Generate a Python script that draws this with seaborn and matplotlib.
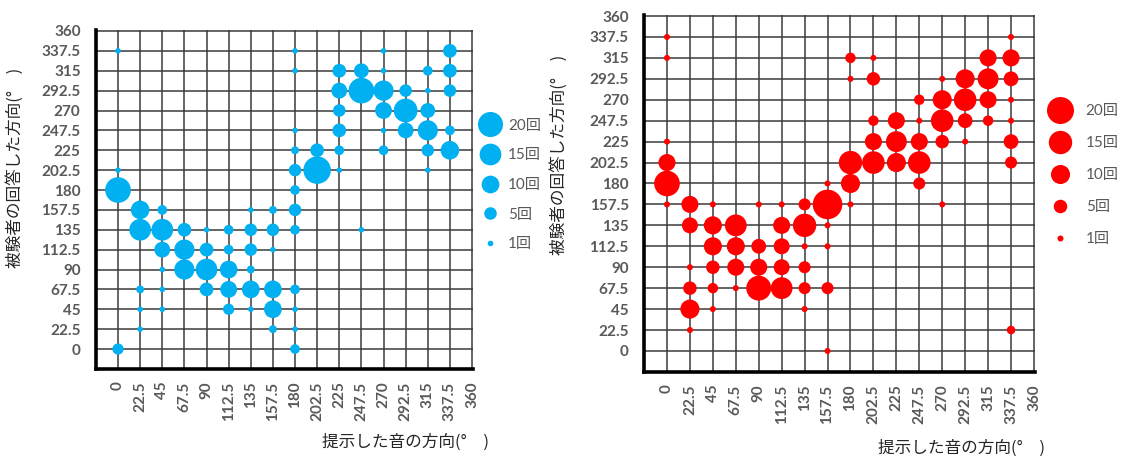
import numpy as np
import pandas as pd
import matplotlib
matplotlib.use("Agg")
import matplotlib.pyplot as plt
from matplotlib.lines import Line2D
from matplotlib.font_manager import FontProperties
import seaborn as sns

# ---- blue panel: presented direction, answered direction, number of answers ----
blue_presented = [0, 0, 0, 0,
                  22.5, 22.5, 22.5, 22.5, 22.5,
                  45, 45, 45, 45, 45, 45,
                  67.5, 67.5, 67.5,
                  90, 90, 90, 90,
                  112.5, 112.5, 112.5, 112.5, 112.5,
                  135, 135, 135, 135, 135, 135,
                  157.5, 157.5, 157.5, 157.5, 157.5, 157.5,
                  180, 180, 180, 180, 180, 180, 180, 180, 180, 180, 180, 180,
                  202.5, 202.5,
                  225, 225, 225, 225, 225, 225,
                  247.5, 247.5, 247.5,
                  270, 270, 270, 270, 270, 270,
                  292.5, 292.5, 292.5,
                  315, 315, 315, 315, 315, 315,
                  337.5, 337.5, 337.5, 337.5, 337.5]
blue_answered = [337.5, 202.5, 180, 0,
                 157.5, 135, 67.5, 45, 22.5,
                 157.5, 135, 112.5, 90, 67.5, 45,
                 135, 112.5, 90,
                 135, 112.5, 90, 67.5,
                 135, 112.5, 90, 67.5, 45,
                 157.5, 135, 112.5, 90, 67.5, 45,
                 157.5, 135, 112.5, 67.5, 45, 22.5,
                 337.5, 315, 247.5, 225, 202.5, 180, 157.5, 135, 67.5, 45, 22.5, 0,
                 225, 202.5,
                 315, 292.5, 270, 247.5, 225, 202.5,
                 315, 292.5, 135,
                 337.5, 315, 292.5, 270, 247.5, 225,
                 292.5, 270, 247.5,
                 315, 292.5, 270, 247.5, 225, 202.5,
                 337.5, 315, 292.5, 247.5, 225]
blue_counts = [1, 1, 21, 4,
               11, 15, 2, 1, 1,
               3, 15, 8, 1, 1, 1,
               6, 13, 13,
               1, 6, 15, 6,
               3, 3, 10, 9, 4,
               1, 5, 5, 2, 10, 1,
               2, 5, 1, 10, 10, 2,
               1, 1, 1, 2, 5, 3, 5, 3, 3, 1, 1, 3,
               6, 24,
               6, 8, 5, 6, 3, 1,
               7, 21, 1,
               1, 1, 13, 9, 1, 3,
               5, 18, 8,
               3, 1, 7, 13, 5, 1,
               6, 6, 5, 3, 11]

# ---- red panel ----
red_presented = [0, 0, 0, 0, 0, 0,
                 22.5, 22.5, 22.5, 22.5, 22.5, 22.5,
                 45, 45, 45, 45, 45, 45,
                 67.5, 67.5, 67.5, 67.5,
                 90, 90, 90, 90,
                 112.5, 112.5, 112.5, 112.5, 112.5,
                 135, 135, 135, 135, 135, 135,
                 157.5, 157.5, 157.5, 157.5, 157.5, 157.5,
                 180, 180, 180, 180, 180,
                 202.5, 202.5, 202.5, 202.5, 202.5,
                 225, 225, 225,
                 247.5, 247.5, 247.5, 247.5, 247.5,
                 270, 270, 270, 270, 270,
                 292.5, 292.5, 292.5, 292.5,
                 315, 315, 315, 315,
                 337.5, 337.5, 337.5, 337.5, 337.5, 337.5, 337.5, 337.5]
red_answered = [337.5, 315, 225, 202.5, 180, 157.5,
                157.5, 135, 90, 67.5, 45, 22.5,
                157.5, 135, 112.5, 90, 67.5, 45,
                135, 112.5, 90, 67.5,
                157.5, 112.5, 90, 67.5,
                157.5, 135, 112.5, 90, 67.5,
                157.5, 135, 112.5, 90, 67.5, 45,
                180, 157.5, 135, 112.5, 67.5, 0,
                315, 292.5, 202.5, 180, 157.5,
                315, 292.5, 247.5, 225, 202.5,
                247.5, 225, 202.5,
                270, 247.5, 225, 202.5, 180,
                292.5, 270, 247.5, 225, 157.5,
                292.5, 270, 247.5, 225,
                315, 292.5, 270, 247.5,
                337.5, 315, 292.5, 270, 247.5, 225, 202.5, 22.5]
red_counts = [1, 1, 1, 8, 18, 1,
              8, 7, 1, 5, 10, 1,
              1, 9, 9, 5, 3, 1,
              13, 9, 8, 1,
              1, 6, 8, 17,
              1, 8, 7, 7, 13,
              4, 15, 1, 4, 4, 1,
              1, 24, 1, 1, 4, 1,
              3, 1, 15, 10, 1,
              1, 5, 3, 8, 14,
              8, 12, 10,
              3, 1, 8, 14, 4,
              1, 10, 14, 5, 1,
              10, 14, 6, 1,
              8, 12, 8, 3,
              1, 8, 6, 1, 1, 6, 4, 2]

angle_ticks = [0, 22.5, 45, 67.5, 90, 112.5, 135, 157.5, 180,
               202.5, 225, 247.5, 270, 292.5, 315, 337.5, 360]
angle_labels = [f"{a:g}" for a in angle_ticks]
legend_counts = [20, 15, 10, 5, 1]
legend_labels = [f"{c}回" for c in legend_counts]

x_title = "提示した音の方向(°　)"
y_title = "被験者の回答した方向(°　)"

sns.set_theme(style="white")
plt.rcParams["font.family"] = ["Lato", "Noto Sans CJK JP", "DejaVu Sans"]

fig = plt.figure(figsize=(11.24, 4.59), dpi=100)
ax_l = fig.add_axes([0.08532, 0.1963, 0.3355, 0.7381])
ax_r = fig.add_axes([0.5730, 0.1898, 0.3478, 0.7773])

tick_grey = "#595959"
label_font = ["Noto Sans CJK JP", "DejaVu Sans"]
legend_font = FontProperties(family=["Lato", "Noto Sans CJK JP"], size=11)


def draw_panel(ax, presented, answered, counts, color, area_per_count,
               legend_xy, text_pad, label_spacing, xlabel_xy, ylabel_xy):
    df = pd.DataFrame({"presented": presented, "answered": answered,
                       "count": counts})
    sizes = {c: area_per_count * c for c in sorted(set(counts))}
    sns.scatterplot(data=df, x="presented", y="answered", size="count",
                    sizes=sizes, color=color, edgecolor="none", linewidth=0,
                    alpha=1, legend=False, ax=ax, zorder=3)

    ax.set_xlim(-22.5, 361)
    ax.set_ylim(-22.5, 361)
    ax.set_xticks(angle_ticks)
    ax.set_xticklabels(angle_labels, rotation=90, fontweight="bold")
    ax.set_yticks(angle_ticks)
    ax.set_yticklabels(angle_labels, fontweight="bold")
    ax.grid(True, color="#3a3a3a", linewidth=1.1)
    ax.set_axisbelow(True)
    for side in ("top", "right"):
        ax.spines[side].set_visible(False)
    for side in ("left", "bottom"):
        ax.spines[side].set_linewidth(2.6)
        ax.spines[side].set_color("black")
    ax.tick_params(axis="both", direction="in", length=3, width=2.6,
                   color="black", labelsize=11, labelcolor=tick_grey)
    ax.tick_params(axis="x", pad=9)
    ax.tick_params(axis="y", pad=11)

    ax.set_xlabel(x_title, fontsize=12, color="#262626", family=label_font)
    ax.set_ylabel(y_title, fontsize=12, color="#262626", family=label_font)
    ax.xaxis.set_label_coords(*xlabel_xy)
    ax.yaxis.set_label_coords(*ylabel_xy)

    handles = [Line2D([], [], linestyle="", marker="o",
                      markersize=np.sqrt(area_per_count * c),
                      markerfacecolor=color, markeredgewidth=0)
               for c in legend_counts]
    leg = ax.legend(handles, legend_labels, loc="center left",
                    bbox_to_anchor=legend_xy, bbox_transform=fig.transFigure,
                    frameon=False, prop=legend_font, borderpad=0,
                    borderaxespad=0, handlelength=1.6,
                    handletextpad=text_pad, labelspacing=label_spacing)
    for t in leg.get_texts():
        t.set_color(tick_grey)


draw_panel(ax_l, blue_presented, blue_answered, blue_counts, "#00B0F0", 16.3,
           (0.425, 0.597), 0.4, 1.02, (0.82, -0.19), (-0.19, 0.593))
draw_panel(ax_r, red_presented, red_answered, red_counts, "#FF0000", 18.9,
           (0.932, 0.618), 0.9, 1.18, (0.813, -0.19), (-0.195, 0.608))

fig.savefig("out.png", dpi=100)
